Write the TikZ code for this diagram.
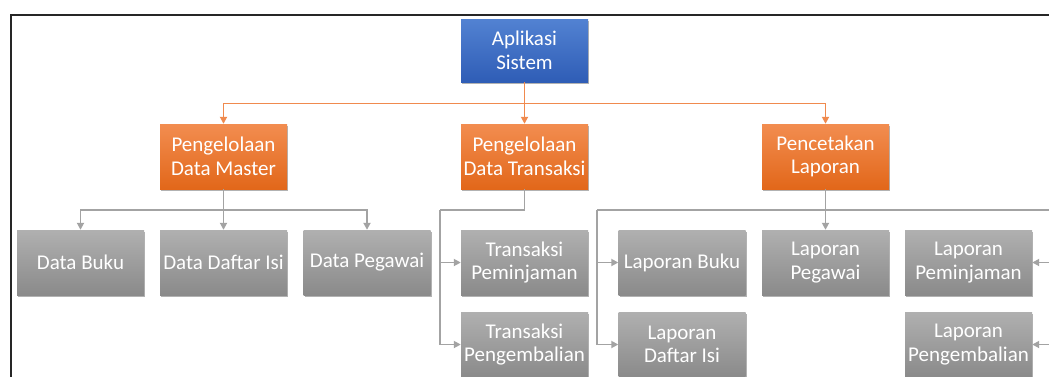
\documentclass[tikz,border=0pt]{standalone}
\usepackage{fontspec}
\setmainfont{Carlito}
\usetikzlibrary{arrows.meta,shadows}
\definecolor{bluetop}{HTML}{5282D2}
\definecolor{bluebot}{HTML}{2F5DB6}
\definecolor{orgtop}{HTML}{F28D50}
\definecolor{orgbot}{HTML}{E2671A}
\definecolor{graytop}{HTML}{B0B0B0}
\definecolor{graybot}{HTML}{8A8A8A}
\definecolor{oline}{HTML}{F08A4E}
\definecolor{gline}{HTML}{A3A3A3}
\tikzset{
  box/.style={inner sep=0pt, minimum width=127pt, minimum height=64pt, align=center,
    text=white, font=\fontsize{21}{23.5}\selectfont,
    drop shadow={shadow xshift=1pt,shadow yshift=-2pt,opacity=0.3,fill=black}},
  bluebox/.style={box, top color=bluetop, bottom color=bluebot},
  orgbox/.style={box, top color=orgtop, bottom color=orgbot},
  graybox/.style={box, top color=graytop, bottom color=graybot},
  oconn/.style={draw=oline, line width=1.8pt},
  gconn/.style={draw=gline, line width=1.8pt},
  tip/.style={-{Triangle[length=7pt,width=7pt]}}
}
\begin{document}
\begin{tikzpicture}[x=1pt,y=-1pt]
\useasboundingbox (0,0) rectangle (1049,376);
\clip (0,0) rectangle (1049,376);
\draw[line width=2.2pt, draw=black!85] (11,15) rectangle (1100,420);

\node[bluebox, minimum height=63pt] (top) at (524.5,50.5) {Aplikasi\\Sistem};

\node[orgbox, minimum height=65pt] (m1) at (223.5,156.5) {Pengelolaan\\Data Master};
\node[orgbox, minimum height=65pt] (m2) at (524.5,156.5) {Pengelolaan\\Data Transaksi};
\node[orgbox, minimum height=65pt] (m3) at (825.5,156.5) {Pencetakan\\Laporan};

\node[graybox, minimum height=65pt] (d1) at (80.5,262.5) {Data Buku};
\node[graybox, minimum height=65pt] (d2) at (223.5,262.5) {Data Daftar Isi};
\node[graybox, minimum height=65pt] (d3) at (367,262.5) {Data Pegawai};
\node[graybox, minimum height=65pt] (t1) at (524.5,262.5) {Transaksi\\Peminjaman};
\node[graybox, minimum height=65pt] (t2) at (524.5,344.5) {Transaksi\\Pengembalian};
\node[graybox, minimum height=65pt] (l1) at (682,262.5) {Laporan Buku};
\node[graybox, minimum height=65pt] (l4) at (682,344.5) {Laporan\\Daftar Isi};
\node[graybox, minimum height=65pt] (l2) at (825.5,262.5) {Laporan\\Pegawai};
\node[graybox, minimum height=65pt] (l3) at (968.5,262.5) {Laporan\\Peminjaman};
\node[graybox, minimum height=65pt] (l5) at (968.5,344.5) {Laporan\\Pengembalian};

% orange connectors
\coordinate (j0) at (524.5,103.5);
\draw[oconn,tip] (top.south) -- (m2.north);
\draw[oconn,tip] (j0) -| (m1.north);
\draw[oconn,tip] (j0) -| (m3.north);

% master
\coordinate (j1) at (223.5,210);
\draw[gconn,tip] (m1.south) -- (d2.north);
\draw[gconn,tip] (j1) -| (d1.north);
\draw[gconn,tip] (j1) -| (d3.north);

% transaksi
\coordinate (j2) at (440,210);
\draw[gconn] (m2.south) |- (j2);
\draw[gconn,tip] (j2) |- (t1.west);
\draw[gconn,tip] (j2) |- (t2.west);

% laporan
\coordinate (j3) at (597,210);
\coordinate (j4) at (1056,210);
\draw[gconn,tip] (m3.south) -- (l2.north);
\draw[gconn] (j3) -- (j4);
\draw[gconn,tip] (j3) |- (l1.west);
\draw[gconn,tip] (j3) |- (l4.west);
\draw[gconn,tip] (j4) |- (l3.east);
\draw[gconn,tip] (j4) |- (l5.east);
\end{tikzpicture}
\end{document}
